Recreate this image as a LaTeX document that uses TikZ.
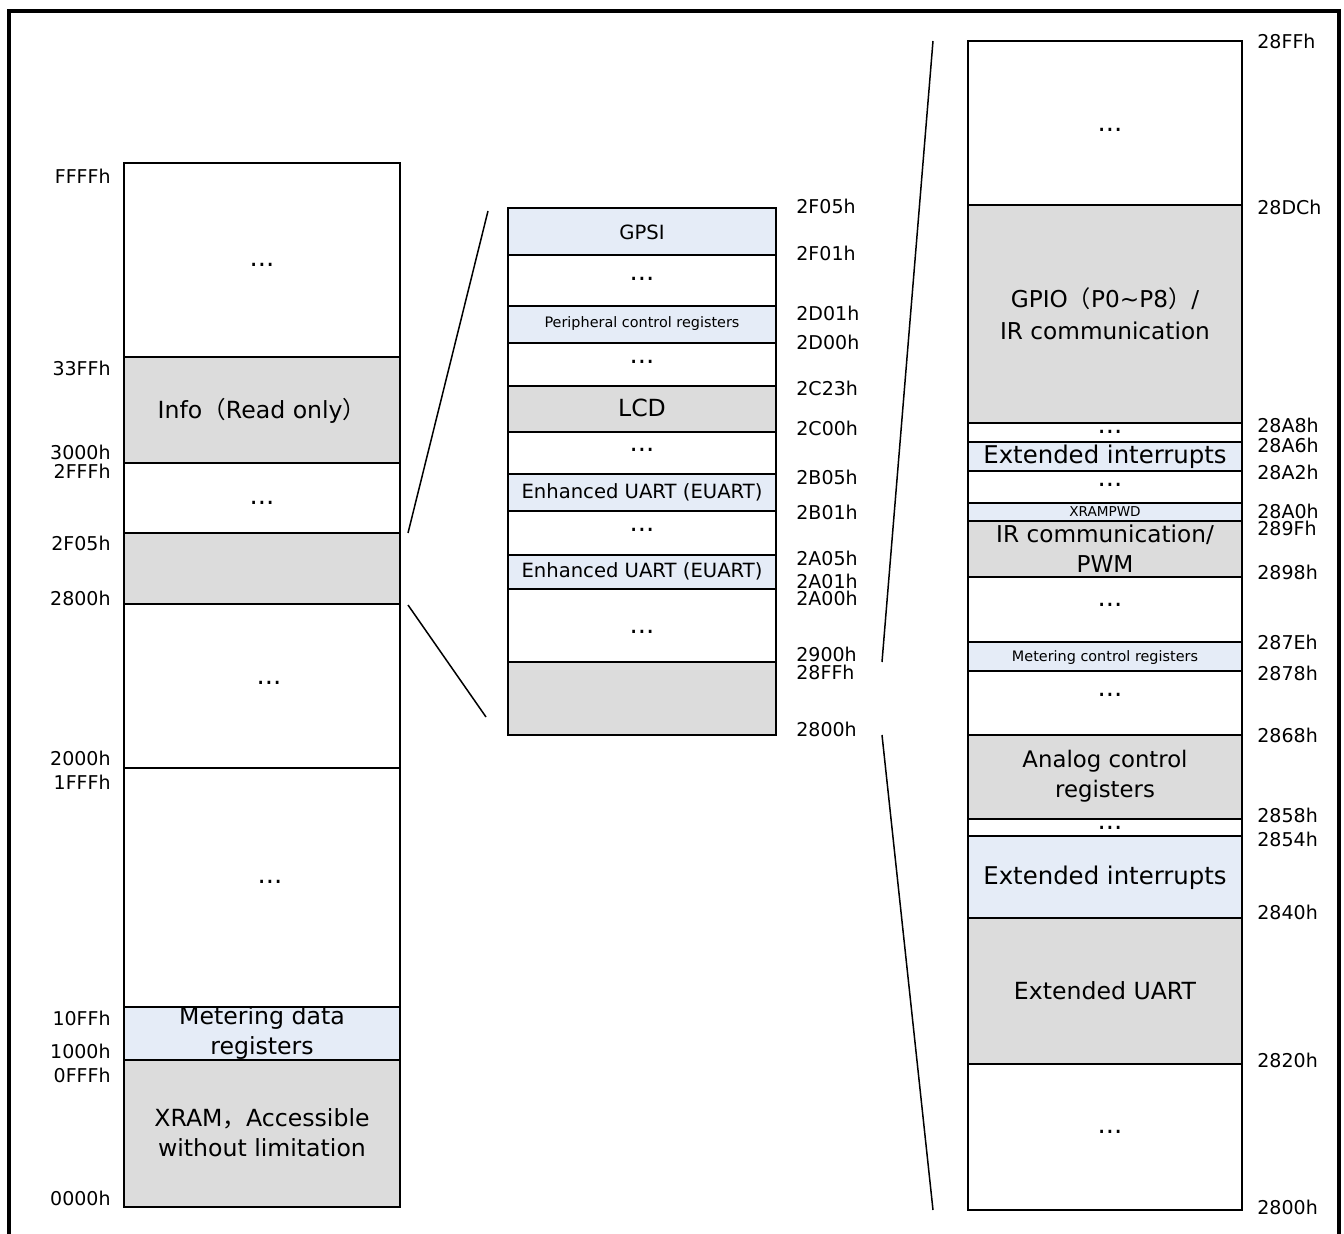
\documentclass[tikz,border=0pt]{standalone}
\usepackage{fontspec}
\setmainfont{DejaVu Sans}
\newfontfamily\cjk{Noto Sans CJK SC}
\newcommand{\zk}[1]{{\cjk #1}}

\definecolor{reggrey}{RGB}{220,220,220}
\definecolor{regblue}{RGB}{229,236,247}

\tikzset{
	blk/.style={draw=black, line width=1pt},
	addr/.style={font=\fontsize{9.5}{11}\selectfont, inner sep=0pt},
	bigtxt/.style={font=\fontsize{11.8}{15}\selectfont, align=center, inner sep=0pt},
	midtxt/.style={font=\fontsize{9.8}{12}\selectfont, inner sep=0pt},
	smalltxt/.style={font=\fontsize{7.2}{9}\selectfont, inner sep=0pt},
	dots/.style={font=\fontsize{13}{15}\selectfont, inner sep=0pt},
	zoomline/.style={line width=0.75pt}
}

\begin{document}
\begin{tikzpicture}[x=0.5pt, y=-0.5pt]

\useasboundingbox (0,0) rectangle (1344,1234);

% frame
\draw[line width=2pt] (9,1240) -- (9,11) -- (1339,11) -- (1339,1240);

% whole memory
\foreach \ya/\yb/\c in {163/357/white, 357/463/reggrey, 463/533/white, 533/604/reggrey,
	604/768/white, 768/1007/white, 1007/1060/regblue, 1060/1207/reggrey}
{
	\draw[blk, fill=\c] (124,\ya) rectangle (400,\yb);
}

\foreach \y/\t in {176/FFFFh, 368/33FFh, 452/3000h, 471/2FFFh, 543/2F05h, 598/2800h,
	758/2000h, 782/1FFFh, 1018/10FFh, 1051/1000h, 1075/0FFFh, 1198/0000h}
{
	\node[addr, anchor=east] (a\t) at (111,\y) {\t};
}

\foreach \x/\y [count=\i] in {262/265, 262/503, 269/683, 270/882}
{
	\node[dots] (ad\i) at (\x,\y) {...};
}

\node[bigtxt] (info) at (262,411) {Info\zk{（}Read only\zk{）}};
\node[bigtxt] (metdata) at (262,1033) {Metering data\\registers};
\node[bigtxt] (xram) at (262,1133) {XRAM\zk{，}Accessible\\without limitation};

% 2800h - 2F05h
\foreach \ya/\yb/\c in {208/255/regblue, 255/306/white, 306/343/regblue, 343/386/white,
	386/432/reggrey, 432/474/white, 474/511/regblue, 511/555/white, 555/589/regblue,
	589/662/white, 662/735/reggrey}
{
	\draw[blk, fill=\c] (508,\ya) rectangle (776,\yb);
}

\foreach \y/\t in {206/2F05h, 253/2F01h, 313/2D01h, 342/2D00h, 388/2C23h, 428/2C00h,
	477/2B05h, 512/2B01h, 558/2A05h, 581/2A01h, 598/2A00h, 654/2900h, 672/28FFh, 729/2800h}
{
	\node[addr, anchor=west] (b\t) at (796,\y) {\t};
}

\foreach \y [count=\i] in {279, 362, 450, 530, 632}
{
	\node[dots] (bd\i) at (642,\y) {...};
}

\node[midtxt] (gpsi) at (642,232) {GPSI};
\node[smalltxt] (periph) at (642,324) {Peripheral control registers};
\node[bigtxt] (lcd) at (642,408) {LCD};
\node[midtxt] (euarta) at (642,492) {Enhanced UART (EUART)};
\node[midtxt] (euartb) at (642,571) {Enhanced UART (EUART)};

% 2800h - 28FFh
\foreach \ya/\yb/\c in {41/205/white, 205/423/reggrey, 423/442/white, 442/471/regblue,
	471/503/white, 503/521/regblue, 521/577/reggrey, 577/642/white, 642/671/regblue,
	671/735/white, 735/819/reggrey, 819/836/white, 836/918/regblue, 918/1064/reggrey,
	1064/1210/white}
{
	\draw[blk, fill=\c] (968,\ya) rectangle (1242,\yb);
}

\foreach \y/\t in {41/28FFh, 207/28DCh, 425/28A8h, 445/28A6h, 472/28A2h, 511/28A0h,
	528/289Fh, 572/2898h, 642/287Eh, 673/2878h, 735/2868h, 815/2858h, 839/2854h,
	912/2840h, 1060/2820h, 1207/2800h}
{
	\node[addr, anchor=west] (c\t) at (1257,\y) {\t};
}

\foreach \y [count=\i] in {130, 432, 485, 605, 695, 828, 1132}
{
	\node[dots] (cd\i) at (1110,\y) {...};
}

\node[bigtxt, font=\fontsize{11.6}{16}\selectfont] (gpio) at (1105,314) {GPIO\zk{（}P0\textasciitilde P8\zk{）}/\\IR communication};
\node[bigtxt, font=\fontsize{12.2}{15}\selectfont] (extinta) at (1105,457) {Extended interrupts};
\node[smalltxt, font=\fontsize{6.8}{8}\selectfont] (xrampwd) at (1105,512) {XRAMPWD};
\node[bigtxt, font=\fontsize{11.6}{15}\selectfont] (irpwm) at (1105,549) {IR communication/\\PWM};
\node[smalltxt] (metctrl) at (1105,658) {Metering control registers};
\node[bigtxt, font=\fontsize{11.4}{15}\selectfont] (analog) at (1105,776) {Analog control\\registers};
\node[bigtxt, font=\fontsize{12.2}{15}\selectfont] (extintb) at (1105,878) {Extended interrupts};
\node[bigtxt] (extuart) at (1105,991) {Extended UART};

% zoom lines
\coordinate (zl1) at (408,533);
\coordinate (zm1) at (488,211);
\coordinate (zl2) at (408,605);
\coordinate (zm2) at (486,717);
\coordinate (zm3) at (882,662);
\coordinate (zr3) at (933,41);
\coordinate (zm4) at (882,735);
\coordinate (zr4) at (933,1210);

\draw[zoomline] (zl1) -- (zm1);
\draw[zoomline] (zl2) -- (zm2);
\draw[zoomline] (zm3) -- (zr3);
\draw[zoomline] (zm4) -- (zr4);

\end{tikzpicture}
\end{document}
